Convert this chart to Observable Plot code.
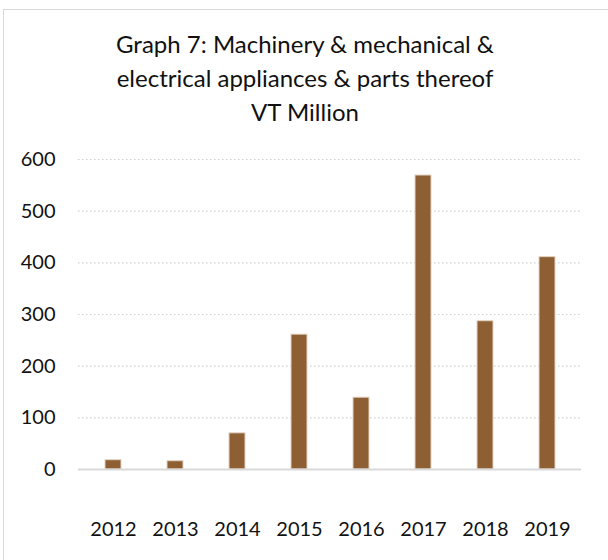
<!DOCTYPE html>
<html>
<head>
<meta charset="utf-8">
<script src="https://cdn.jsdelivr.net/npm/d3@7"></script>
<script src="https://cdn.jsdelivr.net/npm/@observablehq/plot@0.6"></script>
<style>
  html, body { margin: 0; padding: 0; background: #fff; }
  #wrap { position: relative; width: 608px; height: 560px; overflow: hidden; font-family: Lato, "Noto Sans", sans-serif; }
  #frame { position: absolute; left: 3px; top: 9px; width: 620px; height: 600px; border: 1.5px solid #d9d9d9; box-sizing: border-box; }
  #title { position: absolute; left: 0; top: 27px; width: 610px; text-align: center; font-size: 24px; line-height: 34px; color: #111; }
  #chart { position: absolute; left: 0; top: 130px; }
</style>
</head>
<body>
<div id="wrap">
  <div id="frame"></div>
  <div id="title">Graph 7: Machinery &amp; mechanical &amp;<br>electrical appliances &amp; parts thereof<br>VT Million</div>
  <div id="chart"></div>
</div>
<script>
const years = ["2012", "2013", "2014", "2015", "2016", "2017", "2018", "2019"];
const values = [18, 16, 70, 261, 139, 569, 287, 411];
const yTicks = [0, 100, 200, 300, 400, 500, 600];

const data = years.map((year, i) => ({year, value: values[i]}));

const chart = Plot.plot({
  width: 608,
  height: 430,
  marginTop: 29,
  marginBottom: 91,
  marginLeft: 78,
  marginRight: 27,
  style: {fontFamily: "Lato, 'Noto Sans', sans-serif", fontSize: "20px", color: "#111", background: "transparent", overflow: "visible"},
  x: {domain: years, paddingInner: 0.75, paddingOuter: 0.375, label: null},
  y: {domain: [0, 600], label: null},
  marks: [
    Plot.gridY(yTicks, {stroke: "#cfcfcf", strokeOpacity: 1, strokeWidth: 1.2, strokeDasharray: "1.5,2.5"}),
    Plot.barY(data, {x: "year", y: "value", fill: "#8e5f33", stroke: "#e3d3c3", strokeWidth: 1}),
    Plot.ruleY([0], {stroke: "#d9d9d9", strokeWidth: 1.8}),
    Plot.axisY(yTicks, {tickSize: 0, tickPadding: 23, fontSize: 20, fill: "#111"}),
    Plot.axisX({tickSize: 0, tickPadding: 52, fontSize: 20, fill: "#111"})
  ]
});
document.getElementById("chart").appendChild(chart);
</script>
</body>
</html>
